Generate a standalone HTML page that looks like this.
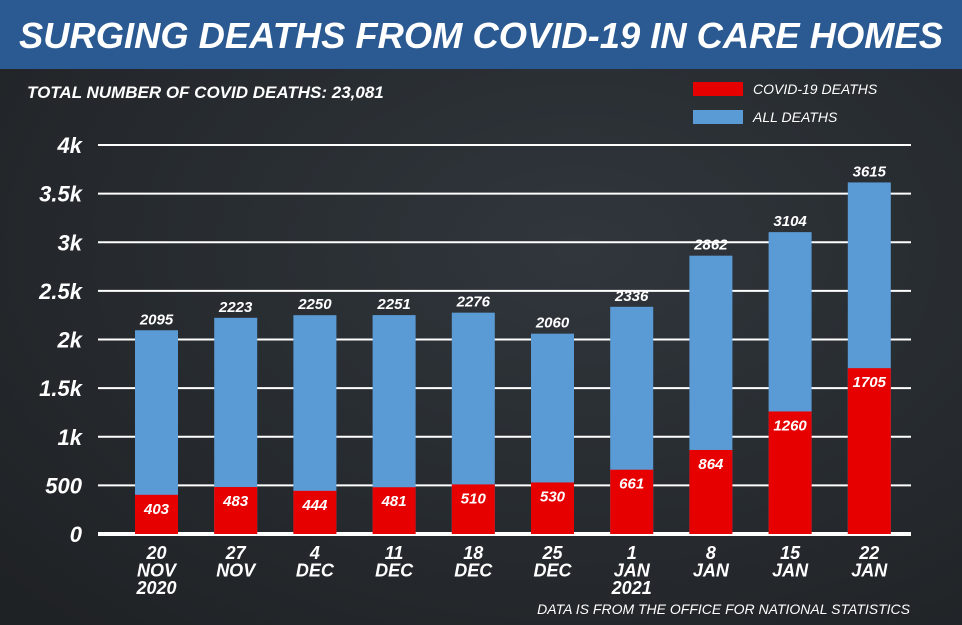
<!DOCTYPE html>
<html><head><meta charset="utf-8"><style>
body{margin:0;width:962px;height:625px;overflow:hidden;background:#272b2f;font-family:"Liberation Sans",sans-serif}
svg{display:block}
</style></head><body>
<svg id="c" width="962" height="625" xmlns="http://www.w3.org/2000/svg">
<defs><radialGradient id="bg" cx="0.6" cy="0.4" r="0.8"><stop offset="0" stop-color="#30363c"/><stop offset="1" stop-color="#1f2225"/></radialGradient></defs>
<rect width="962" height="625" fill="url(#bg)"/>
<rect width="962" height="69" fill="#2b5a92"/>
<text x="481" y="48" text-anchor="middle" fill="#fff" font-size="36" font-weight="bold" font-style="italic" textLength="924" lengthAdjust="spacingAndGlyphs">SURGING DEATHS FROM COVID-19 IN CARE HOMES</text>
<text x="27" y="98" fill="#fff" font-size="17" font-weight="bold" font-style="italic">TOTAL NUMBER OF COVID DEATHS: 23,081</text>
<rect x="693" y="82" width="50" height="14" fill="#e60000"/>
<text x="753" y="94" fill="#fff" font-size="14" font-style="italic">COVID-19 DEATHS</text>
<rect x="693" y="110" width="50" height="14" fill="#5b9bd5"/>
<text x="753" y="122" fill="#fff" font-size="14" font-style="italic">ALL DEATHS</text>
<text x="910" y="614" text-anchor="end" fill="#fff" font-size="14" font-style="italic">DATA IS FROM THE OFFICE FOR NATIONAL STATISTICS</text>
<g id="grid"></g><g id="bars"></g><g id="labels"></g>
</svg>
<script>
const categories=[["20","NOV","2020"],["27","NOV"],["4","DEC"],["11","DEC"],["18","DEC"],["25","DEC"],["1","JAN","2021"],["8","JAN"],["15","JAN"],["22","JAN"]];
const allDeaths=[2095,2223,2250,2251,2276,2060,2336,2862,3104,3615];
const covidDeaths=[403,483,444,481,510,530,661,864,1260,1705];
const tickValues=[0,500,1000,1500,2000,2500,3000,3500,4000];
const tickLabels=["0","500","1k","1.5k","2k","2.5k","3k","3.5k","4k"];
const NS="http://www.w3.org/2000/svg";
const y0=534,yTop=145,maxV=4000;
function y(v){return y0-(v/maxV)*(y0-yTop);}
function x(i){return 135+i*79.2;}
const bw=43;
function mk(t,a,p){const e=document.createElementNS(NS,t);for(const k in a)e.setAttribute(k,a[k]);p.appendChild(e);return e;}
const grid=document.getElementById('grid'),bars=document.getElementById('bars'),labels=document.getElementById('labels');
tickValues.forEach((v,i)=>{
  const l=mk('line',{x1:98,x2:911,y1:y(v),y2:y(v),stroke:'#fff','stroke-width':v===0?4:2},grid);
  
  
  const t=mk('text',{x:82,y:y(v)+8,'text-anchor':'end',fill:'#fff','font-size':22,'font-weight':'bold','font-style':'italic'},grid);
  t.textContent=tickLabels[i];
  
  
});
categories.forEach((c,i)=>{
  const a=mk('rect',{x:x(i),y:y(allDeaths[i]),width:bw,height:y0-y(allDeaths[i]),fill:'#5b9bd5'},bars);
  
  
  const r=mk('rect',{x:x(i),y:y(covidDeaths[i]),width:bw,height:y0-y(covidDeaths[i]),fill:'#e60000'},bars);
  
  
  const cx=x(i)+bw/2;
  const t1=mk('text',{x:cx,y:y(allDeaths[i])-6,'text-anchor':'middle',fill:'#fff','font-size':15,'font-weight':'bold','font-style':'italic'},labels);
  t1.textContent=allDeaths[i];
  
  
  const t2=mk('text',{x:cx,y:y(covidDeaths[i])+19,'text-anchor':'middle',fill:'#fff','font-size':15,'font-weight':'bold','font-style':'italic'},labels);
  t2.textContent=covidDeaths[i];
  
  
  c.forEach((s,j)=>{
    const t=mk('text',{x:cx,y:559+j*17.5,'text-anchor':'middle',fill:'#fff','font-size':18,'font-weight':'bold','font-style':'italic'},labels);
    t.textContent=s;
    
    
  });
});
</script>
</body></html>
